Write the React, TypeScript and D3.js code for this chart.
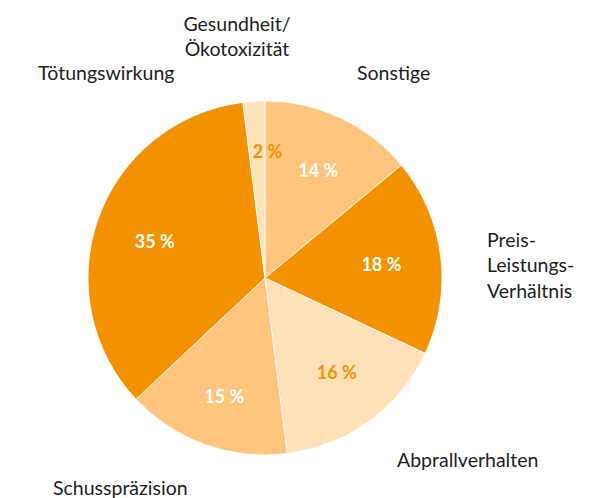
import React from "react";
import * as d3 from "d3";

const categories = ["Sonstige", "Preis-Leistungs-Verhältnis", "Abprallverhalten", "Schusspräzision", "Tötungswirkung", "Gesundheit/Ökotoxizität"];
const values = [14, 18, 16, 15, 35, 2];
const labelLines = [["Sonstige"], ["Preis-", "Leistungs-", "Verhältnis"], ["Abprallverhalten"], ["Schusspräzision"], ["Tötungswirkung"], ["Gesundheit/", "Ökotoxizität"]];

const fills = ["#FEC57E", "#F39200", "#FFE1BA", "#FEC57E", "#F39200", "#FFE1BA"];
const pctColors = ["#FFFFFF", "#FFFFFF", "#F39200", "#FFFFFF", "#FFFFFF", "#F39200"];
// layout of outside labels: [x, y of first baseline, anchor]
const labelLayout: [number, number, string][] = [
  [357, 80, "start"],
  [487, 247, "start"],
  [397, 467, "start"],
  [53, 495, "start"],
  [38, 80, "start"],
  [237, 31, "middle"],
];
// small nudges of the percentage labels [dx, dy]
const pctNudge: [number, number][] = [
  [2, 1], [-3, 2], [1, -3], [0, 5], [3, 4], [10, -6],
];

const W = 611, H = 498;
const cx = 265, cy = 278, R = 177;
const FONT = "Lato, 'Open Sans', sans-serif";

export default function App() {
  const pie = d3.pie<number>().sort(null).value((d) => d);
  const arcs = pie(values);
  const arc = d3.arc<d3.PieArcDatum<number>>().innerRadius(0).outerRadius(R);
  const labelArc = d3.arc<d3.PieArcDatum<number>>().innerRadius(R * 0.68).outerRadius(R * 0.68);
  return (
    <svg width={W} height={H} style={{ position: "absolute", left: 0, top: 0, background: "#fff" }}>
      <g transform={`translate(${cx},${cy})`}>
        {arcs.map((a, i) => (
          <path key={i} d={arc(a) || ""} fill={fills[i]} stroke="#fff" strokeWidth={0.8} />
        ))}
        {arcs.map((a, i) => {
          const [x, y] = labelArc.centroid(a);
          return (
            <text key={i} x={x + pctNudge[i][0]} y={y + pctNudge[i][1]} dy="0.36em" textAnchor="middle" fill={pctColors[i]}
              fontFamily={FONT} fontWeight="bold" fontSize={18}>
              {values[i]} %
            </text>
          );
        })}
      </g>
      {categories.map((c, i) => {
        const [x, y, anchor] = labelLayout[i];
        return (
          <text key={c} x={x} y={y} textAnchor={anchor as any} fill="#1e1e1e" fontFamily={FONT} fontSize={19.5}>
            {labelLines[i].map((l, j) => (
              <tspan key={j} x={x} y={y + j * 25.3}>{l}</tspan>
            ))}
          </text>
        );
      })}
    </svg>
  );
}
